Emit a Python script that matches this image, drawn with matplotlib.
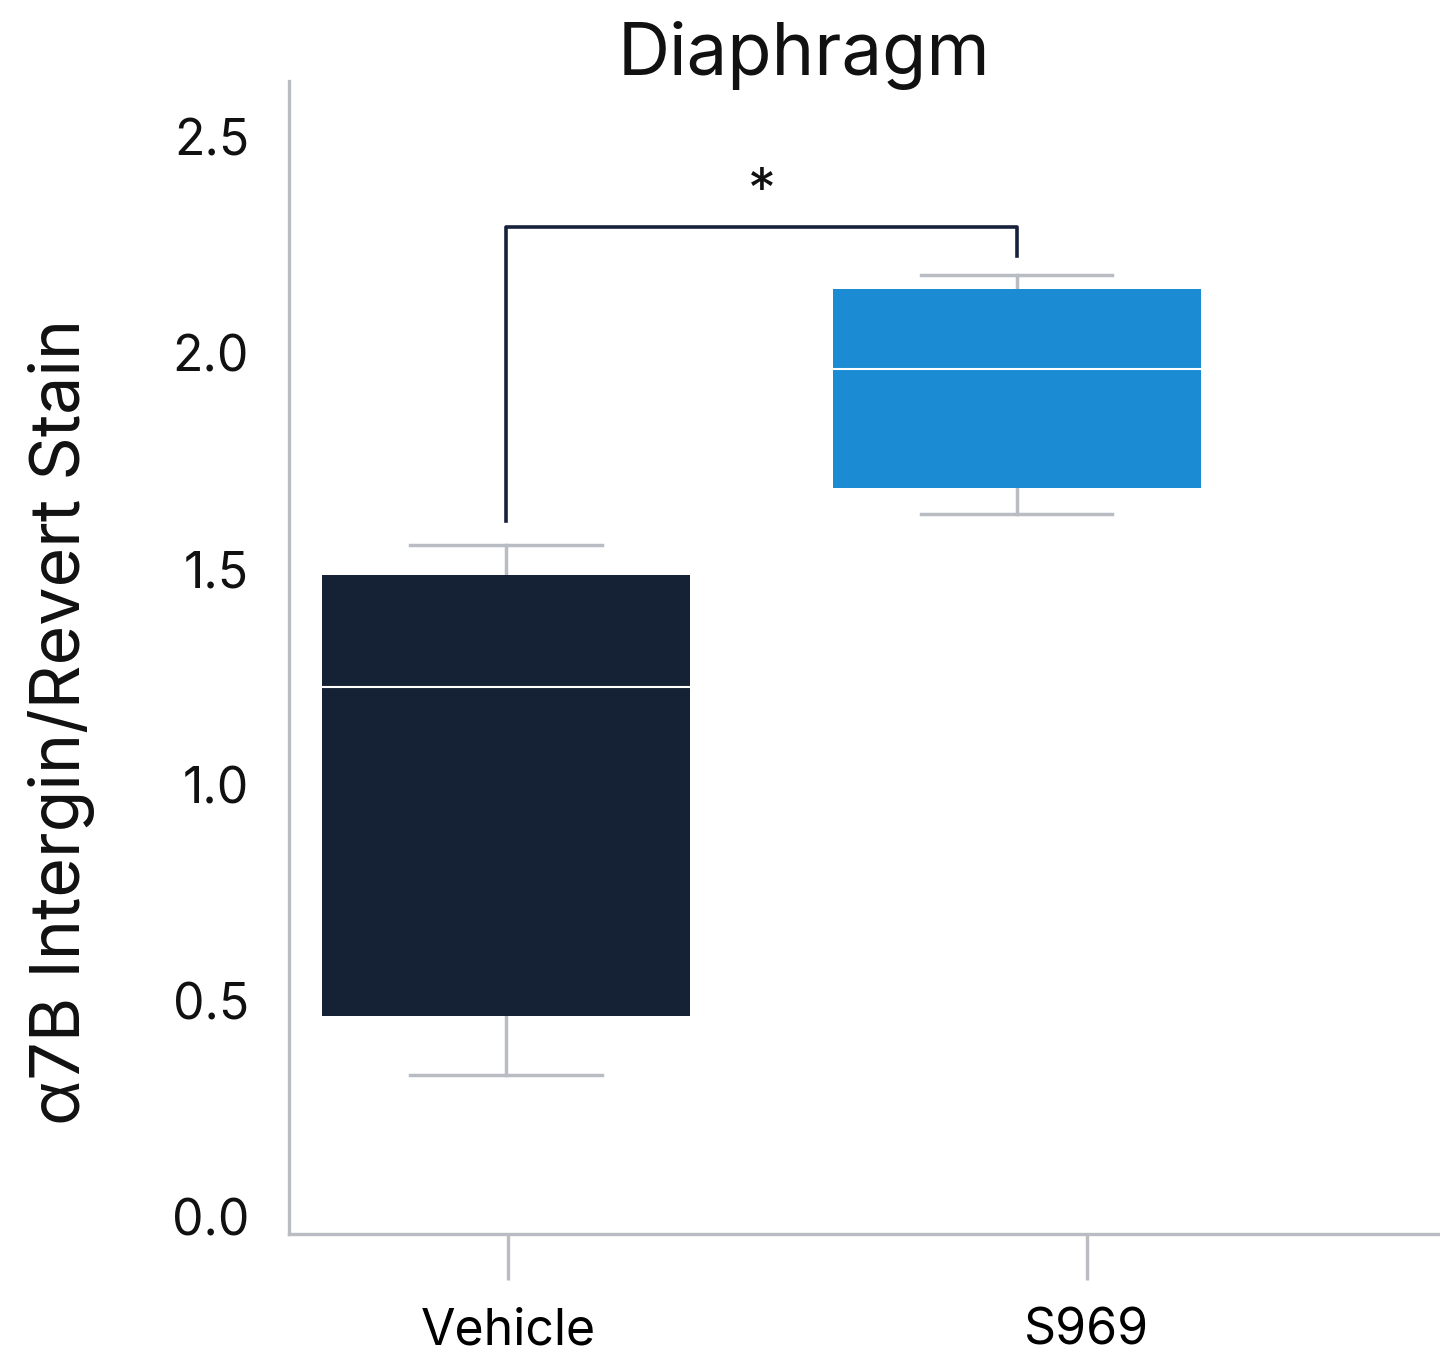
import matplotlib
matplotlib.use("Agg")
import matplotlib.pyplot as plt
import matplotlib.transforms as mtransforms

# data
groups = ["Vehicle", "S969"]
box_pos = [0, 1]
tick_pos = [0.004, 1.137]
q1 = [0.505, 1.727]
med = [1.266, 2.002]
q3 = [1.525, 2.188]
wlo = [0.368, 1.667]
whi = [1.595, 2.220]
colors = ["#152134", "#1b8bd3"]
yticks = [0.0, 0.5, 1.0, 1.5, 2.0, 2.5]

# significance bracket
br_y = 2.331
br_left = 1.650
br_right = 2.264

plt.rcParams['font.family'] = ['Inter', 'DejaVu Sans']

fig = plt.figure(figsize=(14.4, 13.59), dpi=100)
ax = fig.add_axes([0.2007, 0.0920, 0.7993, 0.8484])

stats = []
for i in range(2):
    stats.append(dict(med=med[i], q1=q1[i], q3=q3[i], whislo=wlo[i], whishi=whi[i], fliers=[]))

grey = "#b9bcc2"
bp = ax.bxp(stats, positions=box_pos, widths=0.72, patch_artist=True, showfliers=False,
            capwidths=0.374,
            boxprops=dict(linewidth=0),
            whiskerprops=dict(color=grey, linewidth=2.5),
            capprops=dict(color=grey, linewidth=2.5),
            medianprops=dict(color="white", linewidth=1.5))
for patch, c in zip(bp["boxes"], colors):
    patch.set_facecolor(c)
    patch.set_edgecolor(c)
    patch.set_zorder(3)
for m in bp["medians"]:
    m.set_zorder(4)

# bracket
ax.plot([box_pos[0], box_pos[0], box_pos[1], box_pos[1]],
        [br_left, br_y, br_y, br_right], color="#16213a", linewidth=2.6, zorder=5)
ax.text((box_pos[0] + box_pos[1]) / 2, 2.41, "*", ha="center", va="center", fontsize=40, color="#111111")

ax.set_xlim(-0.4247, 1.828)
ax.set_ylim(0, 2.669)
ax.set_xticks(tick_pos)
ax.set_xticklabels(groups, fontsize=36)
ax.set_yticks(yticks)
ax.set_yticklabels([])

# y labels sit a little above their values in the reference
off = mtransforms.ScaledTranslation(-40 / 100, 12 / 100, fig.dpi_scale_trans)
for v in yticks:
    ax.text(0, v, f"{v:.1f}", transform=ax.get_yaxis_transform() + off,
            ha="right", va="center", fontsize=36, color="#111111")

for s in ["top", "right"]:
    ax.spines[s].set_visible(False)
for s in ["left", "bottom"]:
    ax.spines[s].set_color(grey)
    ax.spines[s].set_linewidth(2.4)
ax.tick_params(axis="x", length=33, width=2.4, color=grey, pad=20)
ax.tick_params(axis="y", length=0)

fig.text(804 / 1440, 1 - 55 / 1359, "Diaphragm", ha="center", va="center", fontsize=52, color="#111111")
fig.text(62 / 1440, 1 - 722 / 1359, "α7B Intergin/Revert Stain", ha="center", va="center",
         rotation=90, fontsize=49, color="#111111")

fig.savefig("out.png", dpi=100)
